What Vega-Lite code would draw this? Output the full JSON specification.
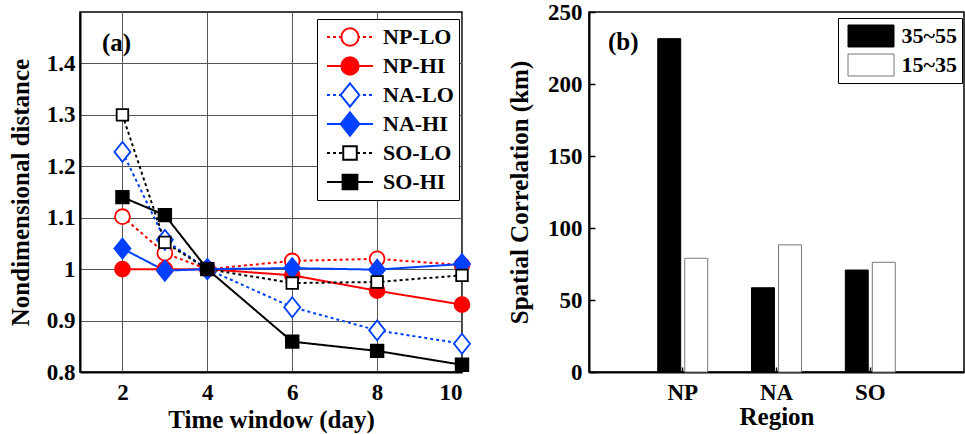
{
  "$schema": "https://vega.github.io/schema/vega-lite/v6.json",
  "padding": {"left": 7, "top": 0, "right": 0, "bottom": 0},
  "background": "white",
  "bounds": "flush",
  "spacing": 127,
  "resolve": {
    "scale": {"color": "independent", "fill": "independent", "stroke": "independent", "shape": "independent", "strokeDash": "independent"},
    "legend": {"color": "independent", "fill": "independent", "stroke": "independent", "shape": "independent", "strokeDash": "independent"}
  },
  "config": {
    "font": "Liberation Serif",
    "view": {"stroke": "black", "strokeWidth": 1.5},
    "axis": {
      "labelFont": "Liberation Serif", "labelFontWeight": "bold", "labelFontSize": 23, "labelColor": "black",
      "titleFont": "Liberation Serif", "titleFontWeight": "bold", "titleFontSize": 25, "titleColor": "black",
      "domainColor": "black", "domainWidth": 2, "tickColor": "black", "tickWidth": 1.5,
      "gridColor": "#555555", "gridWidth": 1, "gridOpacity": 1
    },
    "legend": {"labelFont": "Liberation Serif", "labelFontWeight": "bold", "labelFontSize": 22, "labelColor": "black"},
    "title": {"font": "Liberation Serif", "fontWeight": "bold", "fontSize": 25, "color": "black"}
  },
  "datasets": {
    "lines": [
      {"series": "NP-LO", "day": 2, "value": 1.102},
      {"series": "NP-LO", "day": 3, "value": 1.031},
      {"series": "NP-LO", "day": 4, "value": 1.0},
      {"series": "NP-LO", "day": 6, "value": 1.016},
      {"series": "NP-LO", "day": 8, "value": 1.020},
      {"series": "NP-LO", "day": 10, "value": 1.008},
      {"series": "NP-HI", "day": 2, "value": 1.0},
      {"series": "NP-HI", "day": 3, "value": 1.0},
      {"series": "NP-HI", "day": 4, "value": 1.0},
      {"series": "NP-HI", "day": 6, "value": 0.988},
      {"series": "NP-HI", "day": 8, "value": 0.958},
      {"series": "NP-HI", "day": 10, "value": 0.931},
      {"series": "NA-LO", "day": 2, "value": 1.228},
      {"series": "NA-LO", "day": 3, "value": 1.057},
      {"series": "NA-LO", "day": 4, "value": 1.0},
      {"series": "NA-LO", "day": 6, "value": 0.926},
      {"series": "NA-LO", "day": 8, "value": 0.881},
      {"series": "NA-LO", "day": 10, "value": 0.855},
      {"series": "NA-HI", "day": 2, "value": 1.040},
      {"series": "NA-HI", "day": 3, "value": 0.997},
      {"series": "NA-HI", "day": 4, "value": 1.0},
      {"series": "NA-HI", "day": 6, "value": 1.002},
      {"series": "NA-HI", "day": 8, "value": 0.999},
      {"series": "NA-HI", "day": 10, "value": 1.010},
      {"series": "SO-LO", "day": 2, "value": 1.300},
      {"series": "SO-LO", "day": 3, "value": 1.052},
      {"series": "SO-LO", "day": 4, "value": 1.0},
      {"series": "SO-LO", "day": 6, "value": 0.973},
      {"series": "SO-LO", "day": 8, "value": 0.975},
      {"series": "SO-LO", "day": 10, "value": 0.988},
      {"series": "SO-HI", "day": 2, "value": 1.140},
      {"series": "SO-HI", "day": 3, "value": 1.105},
      {"series": "SO-HI", "day": 4, "value": 1.0},
      {"series": "SO-HI", "day": 6, "value": 0.859},
      {"series": "SO-HI", "day": 8, "value": 0.841},
      {"series": "SO-HI", "day": 10, "value": 0.814}
    ],
    "bars": [
      {"region": "NP", "band": "35~55", "value": 231.5},
      {"region": "NP", "band": "15~35", "value": 79},
      {"region": "NA", "band": "35~55", "value": 58.5},
      {"region": "NA", "band": "15~35", "value": 88.3},
      {"region": "SO", "band": "35~55", "value": 70.8},
      {"region": "SO", "band": "15~35", "value": 76.2}
    ]
  },
  "hconcat": [
    {
      "width": 382,
      "height": 360,
      "title": {"text": "(a)", "anchor": "start", "frame": "group", "orient": "top", "offset": -56, "baseline": "middle", "dx": 22},
      "data": {"name": "lines"},
      "encoding": {
        "x": {"field": "day", "type": "quantitative", "scale": {"domain": [1, 10], "nice": false, "zero": false},
              "axis": {"values": [2, 4, 6, 8, 10], "title": "Time window (day)", "grid": true, "ticks": false, "labelPadding": 9, "titlePadding": 3}},
        "y": {"field": "value", "type": "quantitative", "scale": {"domain": [0.8, 1.5], "nice": false, "zero": false},
              "axis": {"values": [0.8, 0.9, 1, 1.1, 1.2, 1.3, 1.4], "format": "~g", "title": "Nondimensional distance", "grid": true, "ticks": false, "labelPadding": 5, "titlePadding": 13}}
      },
      "layer": [
        {
          "mark": {"type": "line", "strokeWidth": 2},
          "encoding": {
            "color": {"field": "series", "type": "nominal", "sort": null,
                      "scale": {"range": ["#ff0000", "#ff0000", "#0040ff", "#0040ff", "#000000", "#000000"]},
                      "legend": {"orient": "none", "legendX": 237, "legendY": 7, "title": null, "symbolType": "stroke", "symbolSize": 2116, "symbolStrokeWidth": 2,
                                 "symbolOffset": 4, "labelOffset": 9, "clipHeight": 26, "rowPadding": 3, "padding": 5,
                                 "strokeColor": "black", "fillColor": "white", "zindex": 1}},
            "strokeDash": {"field": "series", "type": "nominal", "sort": null,
                           "scale": {"range": [[3, 3], [1, 0], [3, 3], [1, 0], [3, 3], [1, 0]]}}
          }
        },
        {
          "mark": {"type": "point", "size": 220, "strokeWidth": 1.8, "opacity": 1},
          "encoding": {
            "shape": {"field": "series", "type": "nominal",
                      "scale": {"domain": ["NP-LO", "NP-HI", "NA-LO", "NA-HI", "SO-LO", "SO-HI"], "range": ["circle", "circle", "M0,-1.35L1.08,0L0,1.35L-1.08,0Z", "M0,-1.35L1.08,0L0,1.35L-1.08,0Z", "M-0.78,-0.78H0.78V0.78H-0.78Z", "M-0.85,-0.85H0.85V0.85H-0.85Z"]},
                      "legend": {"orient": "none", "legendX": 250, "legendY": 7, "title": null, "symbolSize": 300, "symbolStrokeWidth": 2,
                                 "symbolOffset": 4, "labelOffset": 9, "clipHeight": 26, "rowPadding": 3, "padding": 5, "labelExpr": "''", "zindex": 2}},
            "fill": {"field": "series", "type": "nominal",
                     "scale": {"domain": ["NP-LO", "NP-HI", "NA-LO", "NA-HI", "SO-LO", "SO-HI"], "range": ["#ffffff", "#ff0000", "#ffffff", "#0040ff", "#ffffff", "#000000"]}},
            "stroke": {"field": "series", "type": "nominal",
                       "scale": {"domain": ["NP-LO", "NP-HI", "NA-LO", "NA-HI", "SO-LO", "SO-HI"], "range": ["#ff0000", "#ff0000", "#0040ff", "#0040ff", "#000000", "#000000"]}}
          }
        }
      ]
    },
    {
      "width": 375,
      "height": 360,
      "title": {"text": "(b)", "anchor": "start", "frame": "group", "orient": "top", "offset": -66, "baseline": "middle", "dx": 19},
      "data": {"name": "bars"},
      "mark": {"type": "bar", "strokeWidth": 1},
      "encoding": {
        "x": {"field": "region", "type": "nominal", "sort": ["NP", "NA", "SO"], "scale": {"paddingInner": 0.467, "paddingOuter": 0.733},
              "axis": {"title": "Region", "labelAngle": 0, "tickSize": -5, "labelPadding": 14, "titlePadding": 0}},
        "xOffset": {"field": "band", "type": "nominal", "sort": ["35~55", "15~35"], "scale": {"paddingInner": 0.15, "paddingOuter": 0}},
        "y": {"field": "value", "type": "quantitative", "scale": {"domain": [0, 250], "nice": false},
              "axis": {"values": [0, 50, 100, 150, 200, 250], "title": "Spatial Correlation (km)", "grid": false, "tickSize": -6, "labelPadding": 13, "titlePadding": 15}},
        "fill": {"field": "band", "type": "nominal", "scale": {"domain": ["35~55", "15~35"], "range": ["#000000", "#ffffff"]},
                 "legend": {"orient": "none", "legendX": 249, "legendY": 6, "title": null, "symbolType": "M-1,-0.478H1V0.478H-1Z", "symbolSize": 2116, "symbolStrokeWidth": 1,
                            "symbolOffset": 4.5, "labelOffset": 7, "clipHeight": 26, "rowPadding": 3, "padding": 5, "strokeColor": "black", "fillColor": "white"}},
        "stroke": {"field": "band", "type": "nominal", "scale": {"domain": ["35~55", "15~35"], "range": ["#000000", "#777777"]}}
      }
    }
  ]
}
